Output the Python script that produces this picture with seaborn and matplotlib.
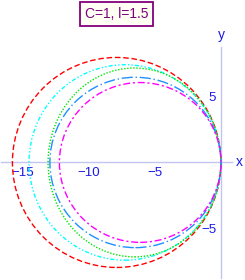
import matplotlib
matplotlib.use("Agg")
import matplotlib.pyplot as plt
from matplotlib.patches import Ellipse
import seaborn as sns

# curves: each closes through the origin
curve_names = ["red", "cyan", "green", "blue", "magenta"]
half_width = [7.9, 7.27, 6.55, 6.48, 6.12]   # semi-axis along x
half_height = [7.95, 7.4, 7.15, 6.45, 6.05]  # semi-axis along y
curve_colors = ["#ff0000", "#00ffff", "#00e600", "#1e90ff", "#ff00ff"]
curve_styles = [(0, (4, 2)), (0, (3, 1.5, 1, 1.5, 1, 1.5)), (0, (1, 1.2)),
                (0, (8, 2, 1, 2)), (0, (5, 2, 1.5, 2))]

x_ticks = [-15, -10, -5]
y_ticks = [-5, 5]
title_text = "C=1, l=1.5"

sns.set_style("white")
plt.rcParams['font.family'] = ['Liberation Sans', 'DejaVu Sans']

fig = plt.figure(figsize=(2.45, 2.8), dpi=100)
ax = fig.add_axes([0, 0, 1, 1])
ax.set_xlim(-16.74, 1.82)
ax.set_ylim(-8.9, 12.3)
ax.set_aspect("auto")

for name, a, b, c, ls in zip(curve_names, half_width, half_height,
                             curve_colors, curve_styles):
    ax.add_patch(Ellipse((-a, 0), 2 * a, 2 * b, fill=False, edgecolor=c,
                         linestyle=ls, linewidth=1.0, zorder=3))

axis_col = "#c4c4f0"
tick_col = "#1a1ae6"
for side in ["top", "right"]:
    ax.spines[side].set_visible(False)
ax.spines["bottom"].set_position(("data", 0))
ax.spines["left"].set_position(("data", 0))
ax.spines["bottom"].set_bounds(-16.7, 0.83)
ax.spines["left"].set_bounds(-8.75, 8.75)
for side in ["bottom", "left"]:
    ax.spines[side].set_color(axis_col)
    ax.spines[side].set_linewidth(1.0)
    ax.spines[side].set_zorder(1)

ax.set_xticks(x_ticks)
ax.set_xticklabels(["\u2212%d" % abs(t) for t in x_ticks])
ax.set_xticks(list(range(-16, 1)), minor=True)
ax.set_yticks(y_ticks)
ax.set_yticklabels(["\u22125", "5"])
ax.set_yticks(list(range(-8, 9)), minor=True)
ax.tick_params(axis="both", which="major", direction="inout", length=4,
               color=axis_col, labelcolor=tick_col, labelsize=9.5, width=0.8)
ax.tick_params(axis="both", which="minor", direction="inout", length=2.5,
               color=axis_col, width=0.6)
ax.tick_params(axis="x", pad=1)
ax.tick_params(axis="y", pad=1.5)

ax.text(1.15, 0, "x", color=tick_col, fontsize=10, ha="left", va="center")
ax.text(0, 9.1, "y", color=tick_col, fontsize=10, ha="center", va="bottom")

fig.text(0.4755, 0.95, title_text, color="#800080", fontsize=10,
         ha="center", va="center",
         bbox=dict(boxstyle="square,pad=0.35", facecolor="#fffff4",
                   edgecolor="#800080", linewidth=1.3))

fig.savefig("out.png", dpi=100)
